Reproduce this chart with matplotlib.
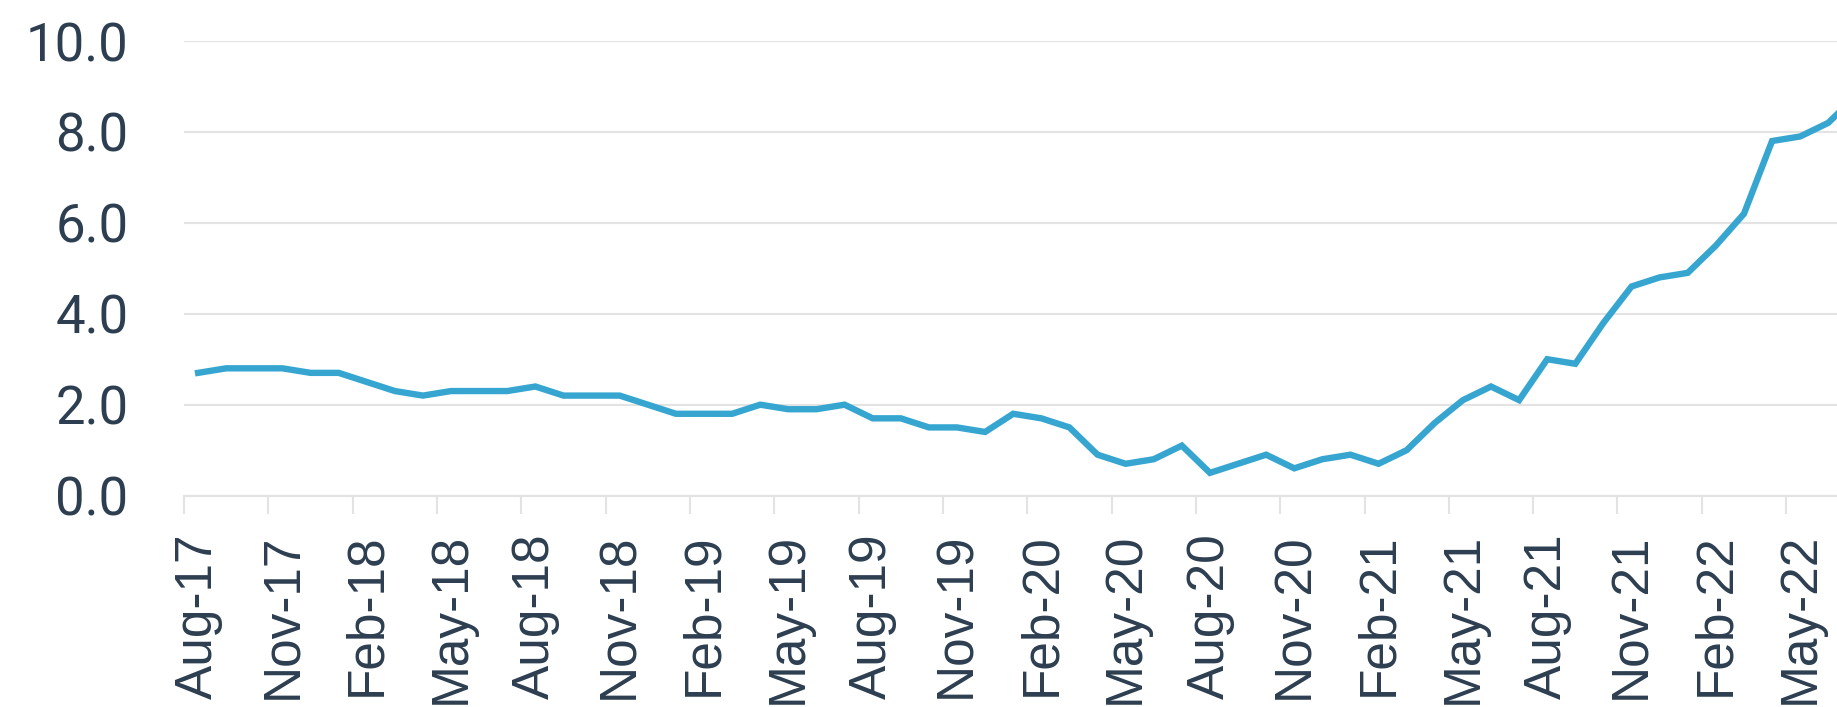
import matplotlib
matplotlib.use('Agg')
import matplotlib.pyplot as plt
import numpy as np
import pandas as pd

# Monthly CPIH annual rate (%), Aug 2017 onwards
months = pd.date_range('2017-08-01', '2022-07-01', freq='MS')
cpih = [2.7, 2.8, 2.8, 2.8, 2.7,
        2.7, 2.5, 2.3, 2.2, 2.3, 2.3, 2.3, 2.4, 2.2, 2.2, 2.2, 2.0,
        1.8, 1.8, 1.8, 2.0, 1.9, 1.9, 2.0, 1.7, 1.7, 1.5, 1.5, 1.4,
        1.8, 1.7, 1.5, 0.9, 0.7, 0.8, 1.1, 0.5, 0.7, 0.9, 0.6, 0.8,
        0.9, 0.7, 1.0, 1.6, 2.1, 2.4, 2.1, 3.0, 2.9, 3.8, 4.6, 4.8,
        4.9, 5.5, 6.2, 7.8, 7.9, 8.2, 8.8]
month_labels = [m.strftime('%b-%y') for m in months]
y_ticks = [0, 2, 4, 6, 8, 10]

text_col = '#2c3e50'
grid_col = '#e3e3e3'
line_col = '#36a6d1'

plt.rcParams['font.family'] = ['Roboto', 'DejaVu Sans']

fig = plt.figure(figsize=(18.37, 7.07), dpi=100)
# plot area runs past the right edge of the canvas
ax = fig.add_axes([0.1002, 0.299, 0.918, 0.643])

x = np.arange(len(cpih))
ax.plot(x, cpih, color=line_col, lw=4.6, solid_joinstyle='miter', zorder=3)

ax.set_xlim(-0.5, len(cpih) - 0.5)
ax.set_ylim(0, 10)

# labels sit on every third month, tick marks on the category boundaries
ax.set_xticks(x[::3])
ax.set_xticklabels(month_labels[::3], rotation=90, fontsize=37, color=text_col,
                   family=['Liberation Sans', 'DejaVu Sans'])
ax.set_xticks(np.arange(-0.5, len(cpih), 3), minor=True)
ax.tick_params(axis='x', which='major', length=0, pad=27)
ax.tick_params(axis='x', which='minor', length=12.7, width=1.5, color=grid_col)

ax.set_yticks(y_ticks)
ax.set_yticklabels([f'{v:.1f}' for v in y_ticks], fontsize=38, color=text_col)
ax.tick_params(axis='y', length=0, pad=40)

ax.grid(axis='y', color=grid_col, lw=1.5, zorder=0)
for side in ['top', 'right', 'left']:
    ax.spines[side].set_visible(False)
ax.spines['bottom'].set_color(grid_col)
ax.spines['bottom'].set_linewidth(1.5)

fig.savefig('out.png', dpi=100, facecolor='white')
